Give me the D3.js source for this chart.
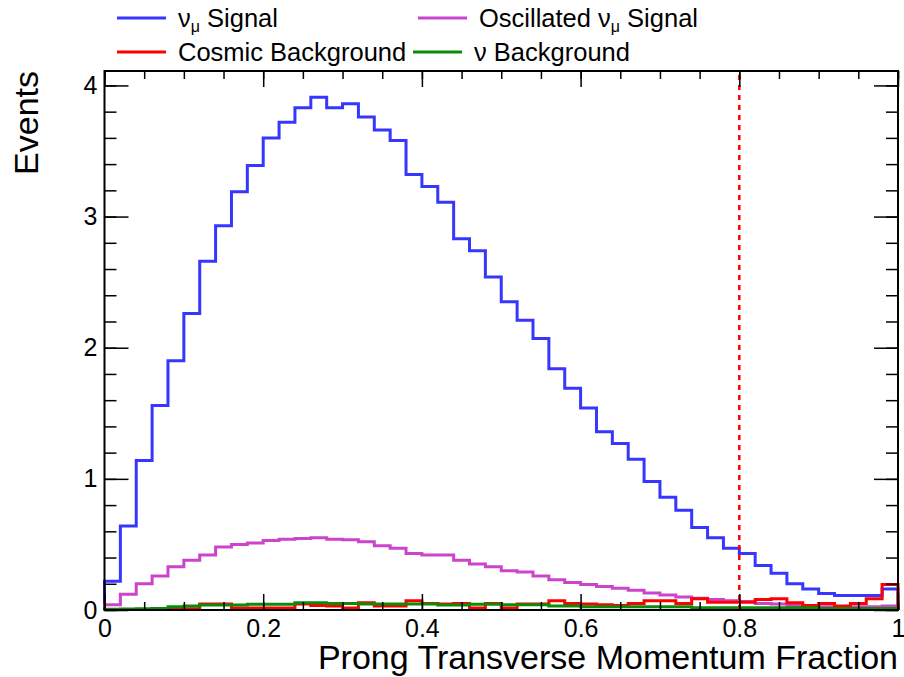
<!DOCTYPE html>
<html>
<head>
<meta charset="utf-8">
<script src="https://cdn.jsdelivr.net/npm/d3@7"></script>
<style>
  body { margin: 0; background: #fff; }
  text { font-family: "Liberation Sans", Arial, Helvetica, sans-serif; fill: #000; }
</style>
</head>
<body>
<svg width="904" height="677"></svg>
<script>
// 50 bins of 0.02 on [0,1]
var binEdges = d3.range(0, 51).map(function(i) { return i / 50; });

var numuSignal = [0.22, 0.64, 1.14, 1.56, 1.90, 2.26, 2.66, 2.93, 3.19, 3.39,
  3.60, 3.72, 3.83, 3.91, 3.83, 3.86, 3.76, 3.66, 3.58, 3.32,
  3.23, 3.11, 2.83, 2.74, 2.54, 2.35, 2.21, 2.07, 1.84, 1.69,
  1.54, 1.36, 1.27, 1.15, 0.98, 0.86, 0.76, 0.63, 0.55, 0.47,
  0.43, 0.34, 0.28, 0.20, 0.16, 0.125, 0.11, 0.11, 0.11, 0.16];

var oscSignal = [0.04, 0.12, 0.20, 0.26, 0.33, 0.38, 0.42, 0.48, 0.50, 0.51,
  0.53, 0.54, 0.545, 0.55, 0.54, 0.535, 0.52, 0.49, 0.47, 0.43,
  0.42, 0.42, 0.38, 0.35, 0.33, 0.30, 0.29, 0.26, 0.23, 0.21,
  0.195, 0.18, 0.165, 0.15, 0.13, 0.115, 0.10, 0.09, 0.08, 0.07,
  0.065, 0.05, 0.045, 0.035, 0.025, 0.025, 0.025, 0.025, 0.025, 0.03];

var cosmicBkg = [0.003, 0.003, 0.003, 0.003, 0.01, 0.01, 0.045, 0.045, 0.015, 0.015,
  0.015, 0.015, 0.045, 0.035, 0.03, 0.015, 0.055, 0.03, 0.03, 0.07,
  0.05, 0.045, 0.05, 0.015, 0.05, 0.015, 0.045, 0.045, 0.07, 0.05,
  0.045, 0.04, 0.035, 0.05, 0.07, 0.07, 0.05, 0.085, 0.06, 0.06,
  0.06, 0.08, 0.085, 0.055, 0.035, 0.05, 0.03, 0.05, 0.085, 0.195];

var nuBkg = [0.005, 0.008, 0.01, 0.012, 0.025, 0.03, 0.038, 0.038, 0.038, 0.043,
  0.043, 0.043, 0.055, 0.055, 0.05, 0.05, 0.046, 0.046, 0.046, 0.046,
  0.046, 0.038, 0.038, 0.043, 0.043, 0.04, 0.04, 0.04, 0.03, 0.03,
  0.025, 0.025, 0.025, 0.025, 0.025, 0.025, 0.025, 0.018, 0.018, 0.018,
  0.018, 0.018, 0.018, 0.018, 0.018, 0.012, 0.012, 0.012, 0.012, 0.012];

var xTicks = [0, 0.2, 0.4, 0.6, 0.8, 1];
var xTickLabels = ["0", "0.2", "0.4", "0.6", "0.8", "1"];
var yTicks = [0, 1, 2, 3, 4];
var cutValue = 0.8;

var svg = d3.select("svg");
var padL = 104.5, padR = 898, padT = 71, padB = 610;

var xScale = d3.scaleLinear().domain([0, 1]).range([padL, padR]);
var yScale = d3.scaleLinear().domain([0, 4.11]).range([padB, padT]);

// step path for a histogram
function histPath(vals) {
  var p = d3.path();
  p.moveTo(xScale(binEdges[0]), yScale(0));
  vals.forEach(function(v, i) {
    p.lineTo(xScale(binEdges[i]), yScale(v));
    p.lineTo(xScale(binEdges[i + 1]), yScale(v));
  });
  p.lineTo(xScale(binEdges[vals.length]), yScale(0));
  return p.toString();
}

var series = [
  {vals: numuSignal, color: "#3636ff"},
  {vals: oscSignal, color: "#cc44cc"},
  {vals: cosmicBkg, color: "#ff0000"},
  {vals: nuBkg, color: "#0a8c0a"}
];

svg.append("g")
  .selectAll("path")
  .data(series)
  .enter()
  .append("path")
  .attr("d", function(d) { return histPath(d.vals); })
  .attr("fill", "none")
  .attr("stroke", function(d) { return d.color; })
  .attr("stroke-width", 3)
  .attr("stroke-linejoin", "miter");

// cut line
svg.append("line")
  .attr("x1", xScale(cutValue)).attr("x2", xScale(cutValue))
  .attr("y1", yScale(0)).attr("y2", padT)
  .attr("stroke", "#ff0000")
  .attr("stroke-width", 2.5)
  .attr("stroke-dasharray", "5,5");

// axes, ROOT style: ticks on all four sides pointing inwards
var xMinor = d3.range(0, 21).map(function(i) { return i * 0.05; });
var yMinor = d3.range(0, 21).map(function(i) { return i * 0.2; })
  .filter(function(v) { return v <= 4.1; });

svg.append("g")
  .attr("transform", "translate(0," + padB + ")")
  .call(d3.axisBottom(xScale).tickValues(xMinor).tickSize(-8).tickFormat(""));
svg.append("g")
  .attr("transform", "translate(0," + padB + ")")
  .call(d3.axisBottom(xScale).tickValues(xTicks).tickSize(-16).tickPadding(9)
    .tickFormat(function(d, i) { return xTickLabels[i]; }))
  .selectAll("text").style("font-size", "25px");
svg.append("g")
  .attr("transform", "translate(0," + padT + ")")
  .call(d3.axisTop(xScale).tickValues(xMinor).tickSize(-8).tickFormat(""));
svg.append("g")
  .attr("transform", "translate(0," + padT + ")")
  .call(d3.axisTop(xScale).tickValues(xTicks).tickSize(-16).tickFormat(""));

svg.append("g")
  .attr("transform", "translate(" + padL + ",0)")
  .call(d3.axisLeft(yScale).tickValues(yMinor).tickSize(-12).tickFormat(""));
svg.append("g")
  .attr("transform", "translate(" + padL + ",0)")
  .call(d3.axisLeft(yScale).tickValues(yTicks).tickSize(-24).tickPadding(7).tickFormat(d3.format("d")))
  .selectAll("text").style("font-size", "25px");
svg.append("g")
  .attr("transform", "translate(" + padR + ",0)")
  .call(d3.axisRight(yScale).tickValues(yMinor).tickSize(-12).tickFormat(""));
svg.append("g")
  .attr("transform", "translate(" + padR + ",0)")
  .call(d3.axisRight(yScale).tickValues(yTicks).tickSize(-24).tickFormat(""));

svg.selectAll(".domain").remove();
svg.selectAll(".tick line").attr("stroke", "#000").attr("stroke-width", 1.5);

// frame
svg.append("rect")
  .attr("x", padL).attr("y", padT)
  .attr("width", padR - padL).attr("height", padB - padT)
  .attr("fill", "none")
  .attr("stroke", "#000")
  .attr("stroke-width", 2);

// axis titles
svg.append("text")
  .attr("x", padR)
  .attr("y", 669)
  .attr("text-anchor", "end")
  .style("font-size", "34px")
  .text("Prong Transverse Momentum Fraction");

svg.append("text")
  .attr("transform", "translate(38," + padT + ") rotate(-90)")
  .attr("text-anchor", "end")
  .style("font-size", "34px")
  .text("Events");

// legend
var legendItems = [
  {name: "ν", sub: "μ", rest: " Signal", color: "#3636ff", x: 117, y: 18},
  {name: "Oscillated ν", sub: "μ", rest: " Signal", color: "#cc44cc", x: 418, y: 18},
  {name: "Cosmic Background", sub: "", rest: "", color: "#ff0000", x: 117, y: 52},
  {name: "ν Background", sub: "", rest: "", color: "#0a8c0a", x: 413, y: 52}
];

var leg = svg.append("g").selectAll("g")
  .data(legendItems)
  .enter()
  .append("g");

leg.append("line")
  .attr("x1", function(d) { return d.x; })
  .attr("x2", function(d) { return d.x + 49; })
  .attr("y1", function(d) { return d.y; })
  .attr("y2", function(d) { return d.y; })
  .attr("stroke", function(d) { return d.color; })
  .attr("stroke-width", 3);

var legText = leg.append("text")
  .attr("x", function(d) { return d.x + 61; })
  .attr("y", function(d) { return d.y + 9; })
  .style("font-size", "25.5px");
legText.append("tspan").text(function(d) { return d.name; });
legText.append("tspan")
  .attr("dy", 5)
  .style("font-size", "16px")
  .text(function(d) { return d.sub; });
legText.append("tspan")
  .attr("dy", function(d) { return d.sub ? -5 : 0; })
  .text(function(d) { return d.rest; });
</script>
</body>
</html>
